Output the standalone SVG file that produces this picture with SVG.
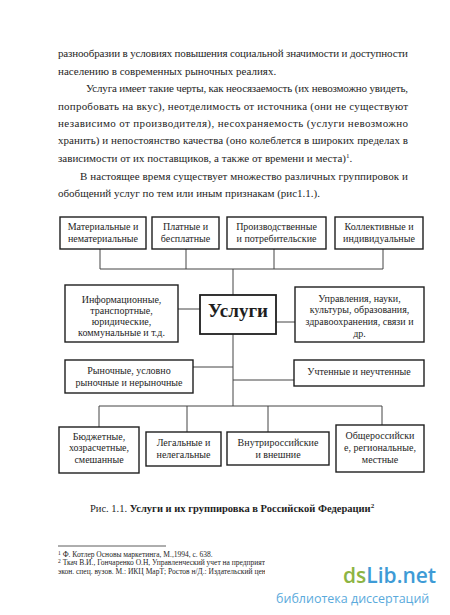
<svg xmlns="http://www.w3.org/2000/svg" width="450" height="615" viewBox="0 0 450 615">
<style>
.body{font-family:"Liberation Serif","Times New Roman",serif;font-size:11px;fill:#1e1e1e}
.bx{fill:#fff;stroke:#1e1e1e;stroke-width:1.4}
.lbl{font-family:"Liberation Serif","Times New Roman",serif;font-size:10px;fill:#1e1e1e;text-anchor:middle}
.ln{fill:none;stroke:#444;stroke-width:1}
.fn{font-family:"Liberation Serif","Times New Roman",serif;font-size:7.5px;fill:#1e1e1e}
</style>
<defs>
<clipPath id="fnclip"><rect x="0" y="555" width="265" height="25"/></clipPath>
</defs>
<rect width="450" height="615" fill="#fff"/>
<g id="body-text">
<text class="body" x="58" y="57" textLength="350" lengthAdjust="spacing">разнообразии в условиях повышения социальной значимости и доступности</text>
<text class="body" x="58" y="75">населению в современных рыночных реалиях.</text>
<text class="body" x="86" y="92" textLength="322" lengthAdjust="spacing">Услуга имеет такие черты, как неосязаемость (их невозможно увидеть,</text>
<text class="body" x="58" y="110" textLength="350" lengthAdjust="spacing">попробовать  на  вкус), неотделимость от источника (они не существуют</text>
<text class="body" x="58" y="127" textLength="350" lengthAdjust="spacing">независимо  от  производителя),  несохраняемость  (услуги  невозможно</text>
<text class="body" x="58" y="144" textLength="350" lengthAdjust="spacing">хранить)  и непостоянство качества (оно колеблется в широких пределах в</text>
<text class="body" x="58" y="162">зависимости от их поставщиков, а также от времени и места)<tspan font-size="7" dy="-4">1</tspan><tspan dy="4">.</tspan></text>
<text class="body" x="80" y="180" textLength="328" lengthAdjust="spacing">В настоящее время существует множество различных группировок и</text>
<text class="body" x="58" y="197">обобщений услуг по тем или иным признакам (рис1.1.).</text>
</g>
<g id="connectors">
<polyline class="ln" points="100,249 100,269 383,269 383,249"/>
<line class="ln" x1="186" y1="249" x2="186" y2="269"/>
<line class="ln" x1="274" y1="249" x2="274" y2="269"/>
<line class="ln" x1="233" y1="269" x2="233" y2="295"/>
<line class="ln" x1="233" y1="334" x2="233" y2="406"/>
<line class="ln" x1="178" y1="309" x2="200" y2="309"/>
<line class="ln" x1="276" y1="322" x2="295" y2="322"/>
<line class="ln" x1="193" y1="367" x2="233" y2="367"/>
<line class="ln" x1="233" y1="380" x2="294" y2="380"/>
<polyline class="ln" points="99,427 99,406 382,406 382,425"/>
<line class="ln" x1="187" y1="406" x2="187" y2="432"/>
<line class="ln" x1="268" y1="406" x2="268" y2="432"/>
</g>
<g id="n-material">
<rect class="bx" x="60" y="217" width="86" height="32"/>
<text class="lbl" x="103" y="229.5">Материальные и</text>
<text class="lbl" x="103" y="241.5">нематериальные</text>
</g>
<g id="n-paid">
<rect class="bx" x="152" y="217" width="67" height="32"/>
<text class="lbl" x="185.5" y="229.5">Платные и</text>
<text class="lbl" x="185.5" y="241.5">бесплатные</text>
</g>
<g id="n-production">
<rect class="bx" x="227" y="217" width="99" height="32"/>
<text class="lbl" x="276.5" y="229.5">Производственные</text>
<text class="lbl" x="276.5" y="241.5">и потребительские</text>
</g>
<g id="n-collective">
<rect class="bx" x="335" y="217" width="88" height="32"/>
<text class="lbl" x="379" y="229.5">Коллективные и</text>
<text class="lbl" x="379" y="241.5">индивидуальные</text>
</g>
<g id="n-center">
<rect x="200" y="295" width="76" height="39" fill="#fff" stroke="#1e1e1e" stroke-width="1.8"/>
<text x="238" y="316.5" font-family="'Liberation Serif','Times New Roman',serif" font-size="19" font-weight="bold" fill="#1e1e1e" text-anchor="middle">Услуги</text>
</g>
<g id="n-info">
<rect class="bx" x="65" y="285" width="113" height="57"/>
<text class="lbl" x="121.5" y="303">Информационные,</text>
<text class="lbl" x="121.5" y="314">транспортные,</text>
<text class="lbl" x="121.5" y="325">юридические,</text>
<text class="lbl" x="121.5" y="336">коммунальные и т.д.</text>
</g>
<g id="n-management">
<rect class="bx" x="295" y="287" width="129" height="55"/>
<text class="lbl" x="359.5" y="301.5">Управления, науки,</text>
<text class="lbl" x="359.5" y="313">культуры, образования,</text>
<text class="lbl" x="359.5" y="325">здравоохранения, связи и</text>
<text class="lbl" x="359.5" y="336.5">др.</text>
</g>
<g id="n-market">
<rect class="bx" x="65" y="360" width="128" height="33"/>
<text class="lbl" x="129" y="373.5">Рыночные, условно</text>
<text class="lbl" x="129" y="386">рыночные и нерыночные</text>
</g>
<g id="n-accounted">
<rect class="bx" x="294" y="360" width="130" height="26"/>
<text class="lbl" x="359" y="374.5">Учтенные и неучтенные</text>
</g>
<g id="n-budget">
<rect class="bx" x="59" y="427" width="80" height="46"/>
<text class="lbl" x="99" y="439.5">Бюджетные,</text>
<text class="lbl" x="99" y="451">хозрасчетные,</text>
<text class="lbl" x="99" y="462.5">смешанные</text>
</g>
<g id="n-legal">
<rect class="bx" x="146" y="432" width="75" height="34"/>
<text class="lbl" x="183.5" y="445.5">Легальные и</text>
<text class="lbl" x="183.5" y="457.5">нелегальные</text>
</g>
<g id="n-domestic">
<rect class="bx" x="227" y="432" width="102" height="33"/>
<text class="lbl" x="278" y="445.5">Внутрироссийские</text>
<text class="lbl" x="278" y="457.5">и внешние</text>
</g>
<g id="n-national">
<rect class="bx" x="336" y="425" width="88" height="47"/>
<text class="lbl" x="380" y="438.5">Общероссийски</text>
<text class="lbl" x="380" y="450.5">е, региональные,</text>
<text class="lbl" x="380" y="462.5">местные</text>
</g>
<g id="caption">
<text x="90" y="512" font-family="'Liberation Serif','Times New Roman',serif" font-size="10.5" fill="#1e1e1e">Рис. 1.1. <tspan font-weight="bold">Услуги и их группировка в Российской Федерации</tspan><tspan font-size="7" font-weight="bold" dy="-4">2</tspan></text>
</g>
<g id="footnotes">
<line x1="58" y1="546" x2="166" y2="546" stroke="#333" stroke-width="0.8"/>
<text class="fn" x="58" y="556.5"><tspan font-size="5.5" dy="-2">1</tspan><tspan dy="2"> Ф. Котлер Основы маркетинга, М.,1994, с. 638.</tspan></text>
<g clip-path="url(#fnclip)">
<text class="fn" x="58" y="564.5"><tspan font-size="5.5" dy="-2">2</tspan><tspan dy="2">  Ткач В.И., Гончаренко О.Н, Управленческий учет на предприятиях</tspan></text>
<text class="fn" x="58" y="573.5">экон. спец. вузов. М.: ИКЦ МарТ; Ростов н/Д.: Издательский центр</text>
</g>
</g>
<g id="watermark">
<text x="343" y="583" font-family="'Open Sans',sans-serif" font-size="21" font-weight="600"><tspan fill="#8db443">ds</tspan><tspan fill="#3e9bd6">Lib.net</tspan></text>
<text x="276" y="603" font-family="'Open Sans',sans-serif" font-size="12.5" fill="#5aaadc">библиотека диссертаций</text>
</g>
</svg>
